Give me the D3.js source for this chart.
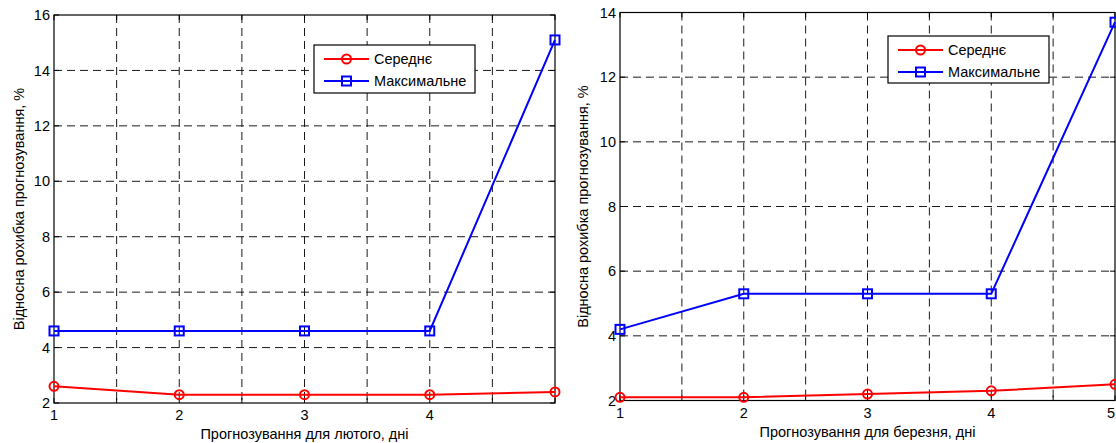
<!DOCTYPE html>
<html>
<head>
<meta charset="utf-8">
<script src="https://cdn.jsdelivr.net/npm/d3@7"></script>
<style>
  html, body { margin: 0; padding: 0; background: #fff; }
  svg { display: block; font-family: "Liberation Sans", Arial, sans-serif; }
</style>
</head>
<body>
<svg id="chart" width="1116" height="443"></svg>
<script>
// ---- data ----
const days = [1, 2, 3, 4, 5];
const febMean = [2.6, 2.3, 2.3, 2.3, 2.4];
const febMax = [4.6, 4.6, 4.6, 4.6, 15.1];
const marMean = [2.1, 2.1, 2.2, 2.3, 2.5];
const marMax = [4.2, 5.3, 5.3, 5.3, 13.7];
const seriesNames = ["Середнє", "Максимальне"];
const xTicks = [1, 1.5, 2, 2.5, 3, 3.5, 4, 4.5, 5];
const febXTickLabels = ["1", "2", "3", "4"];
const marXTickLabels = ["1", "2", "3", "4", "5"];
const febYTicks = [2, 4, 6, 8, 10, 12, 14, 16];
const marYTicks = [2, 4, 6, 8, 10, 12, 14];
const febXLabel = "Прогнозування для лютого, дні";
const marXLabel = "Прогнозування для березня, дні";
const yLabel = "Відносна рохибка прогнозування, %";

const svg = d3.select("#chart");
const W = 1116;
const FS = 14.5;

function drawPanel(cfg) {
  const g = svg.append("g");
  const x = d3.scaleLinear().domain([1, 5]).range([cfg.left, cfg.right]);
  const y = d3.scaleLinear().domain(cfg.yDomain).range([cfg.bottom, cfg.top]);

  // grid
  g.append("g").selectAll("line").data(xTicks.filter(t => t > 1 && t < 5)).join("line")
    .attr("x1", d => x(d)).attr("x2", d => x(d))
    .attr("y1", cfg.top).attr("y2", cfg.bottom)
    .attr("stroke", "#1a1a1a").attr("stroke-width", 1).attr("stroke-dasharray", "8,5");
  g.append("g").selectAll("line").data(cfg.yTicks.filter(t => t > cfg.yDomain[0] && t < cfg.yDomain[1])).join("line")
    .attr("y1", d => y(d)).attr("y2", d => y(d))
    .attr("x1", cfg.left).attr("x2", cfg.right)
    .attr("stroke", "#1a1a1a").attr("stroke-width", 1).attr("stroke-dasharray", "8,5");

  // inside ticks
  const tl = 5;
  const tk = g.append("g").attr("stroke", "#000").attr("stroke-width", 1);
  xTicks.forEach(t => {
    tk.append("line").attr("x1", x(t)).attr("x2", x(t)).attr("y1", cfg.bottom).attr("y2", cfg.bottom - tl);
    tk.append("line").attr("x1", x(t)).attr("x2", x(t)).attr("y1", cfg.top).attr("y2", cfg.top + tl);
  });
  cfg.yTicks.forEach(t => {
    tk.append("line").attr("y1", y(t)).attr("y2", y(t)).attr("x1", cfg.left).attr("x2", cfg.left + tl);
    tk.append("line").attr("y1", y(t)).attr("y2", y(t)).attr("x1", cfg.right).attr("x2", cfg.right - tl);
  });

  // box
  g.append("rect").attr("x", cfg.left).attr("y", cfg.top)
    .attr("width", cfg.right - cfg.left).attr("height", cfg.bottom - cfg.top)
    .attr("fill", "none").attr("stroke", "#000").attr("stroke-width", 1.2);

  // tick labels
  g.append("g").selectAll("text").data(cfg.xTickLabels).join("text")
    .attr("x", d => Math.min(x(+d), W - 5)).attr("y", cfg.bottom + 17)
    .attr("text-anchor", "middle").attr("font-size", FS).attr("fill", "#000").text(d => d);
  g.append("g").selectAll("text").data(cfg.yTicks).join("text")
    .attr("x", cfg.left - 4).attr("y", d => y(d)).attr("dy", "0.35em")
    .attr("text-anchor", "end").attr("font-size", FS).attr("fill", "#000").text(d => d);

  // axis labels
  g.append("text").attr("x", (cfg.left + cfg.right) / 2).attr("y", cfg.xLabelY)
    .attr("text-anchor", "middle").attr("font-size", FS).attr("fill", "#000").text(cfg.xLabel);
  g.append("text").attr("transform", `translate(${cfg.yLabelX},${(cfg.top + cfg.bottom) / 2}) rotate(-90)`)
    .attr("text-anchor", "middle").attr("dy", "0.35em").attr("font-size", FS).attr("fill", "#000").text(yLabel);

  // series
  const line = d3.line().x((d, i) => x(days[i])).y(d => y(d));
  const series = [
    { values: cfg.mean, color: "#ff0000", marker: "circle" },
    { values: cfg.max, color: "#0000ff", marker: "square" }
  ];
  series.forEach(s => {
    g.append("path").attr("d", line(s.values)).attr("fill", "none")
      .attr("stroke", s.color).attr("stroke-width", 2);
    if (s.marker === "circle") {
      g.append("g").selectAll("circle").data(s.values).join("circle")
        .attr("cx", (d, i) => x(days[i])).attr("cy", d => y(d)).attr("r", 4.5)
        .attr("fill", "none").attr("stroke", s.color).attr("stroke-width", 2);
    } else {
      g.append("g").selectAll("rect").data(s.values).join("rect")
        .attr("x", (d, i) => x(days[i]) - 4.5).attr("y", d => y(d) - 4.5)
        .attr("width", 9).attr("height", 9)
        .attr("fill", "none").attr("stroke", s.color).attr("stroke-width", 2);
    }
  });

  // legend
  const L = cfg.legend;
  const lg = g.append("g");
  lg.append("rect").attr("x", L.x).attr("y", L.y).attr("width", L.w).attr("height", L.h)
    .attr("fill", "#fff").attr("stroke", "#000").attr("stroke-width", 1.2);
  series.forEach((s, i) => {
    const ly = L.y + 14 + i * 22;
    const lx1 = L.x + 10, lx2 = L.x + 55, mx = (lx1 + lx2) / 2;
    lg.append("line").attr("x1", lx1).attr("x2", lx2).attr("y1", ly).attr("y2", ly)
      .attr("stroke", s.color).attr("stroke-width", 2);
    if (s.marker === "circle") {
      lg.append("circle").attr("cx", mx).attr("cy", ly).attr("r", 4.5)
        .attr("fill", "none").attr("stroke", s.color).attr("stroke-width", 2);
    } else {
      lg.append("rect").attr("x", mx - 4.5).attr("y", ly - 4.5).attr("width", 9).attr("height", 9)
        .attr("fill", "none").attr("stroke", s.color).attr("stroke-width", 2);
    }
    lg.append("text").attr("x", L.x + 60).attr("y", ly).attr("dy", "0.35em")
      .attr("font-size", FS).attr("fill", "#000").text(seriesNames[i]);
  });
}

drawPanel({
  left: 54, right: 555, top: 15, bottom: 403,
  yDomain: [2, 16], yTicks: febYTicks, xTickLabels: febXTickLabels,
  mean: febMean, max: febMax, xLabel: febXLabel, xLabelY: 439, yLabelX: 19,
  legend: { x: 314, y: 45, w: 161, h: 48 }
});
drawPanel({
  left: 620, right: 1115, top: 12.5, bottom: 400.5,
  yDomain: [2, 14], yTicks: marYTicks, xTickLabels: marXTickLabels,
  mean: marMean, max: marMax, xLabel: marXLabel, xLabelY: 437, yLabelX: 583,
  legend: { x: 888, y: 36, w: 161, h: 47 }
});
</script>
</body>
</html>
